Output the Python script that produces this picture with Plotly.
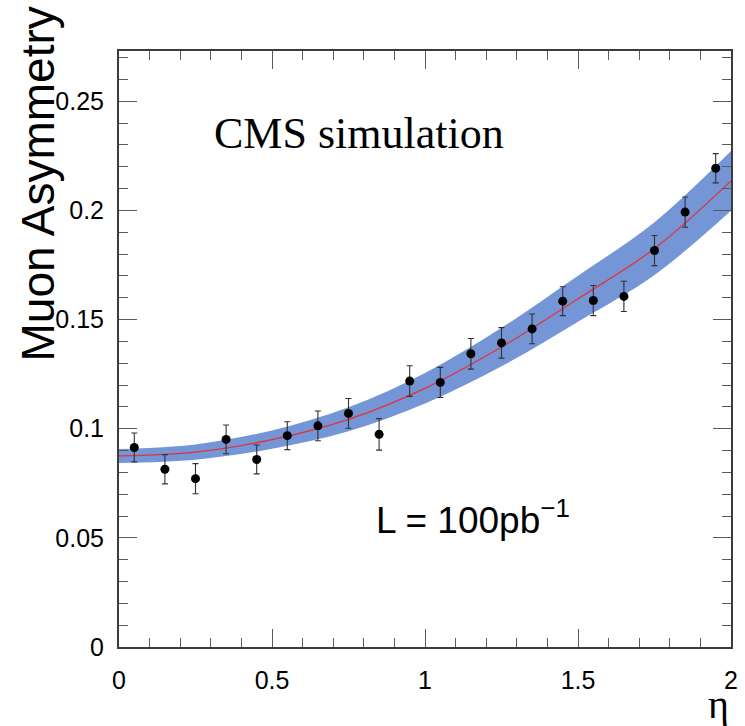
import plotly.graph_objects as go

# Data points
eta = [0.05, 0.15, 0.25, 0.35, 0.45, 0.55, 0.65, 0.75, 0.85, 0.95,
       1.05, 1.15, 1.25, 1.35, 1.45, 1.55, 1.65, 1.75, 1.85, 1.95]
asym = [0.0914, 0.0814, 0.0771, 0.0951, 0.0859, 0.0968, 0.1013, 0.1070, 0.0974, 0.1218,
        0.1212, 0.1343, 0.1393, 0.1457, 0.1584, 0.1587, 0.1606, 0.1816, 0.1992, 0.2193]
asym_err = [0.0066, 0.0067, 0.0069, 0.0066, 0.0066, 0.0064, 0.0068, 0.0068, 0.0072, 0.0070,
            0.0069, 0.0070, 0.0070, 0.0068, 0.0066, 0.0069, 0.0069, 0.0069, 0.0069, 0.0067]

# Fit curve and its uncertainty band
fit_eta = [0.0, 0.25, 0.5, 0.75, 1.0, 1.25, 1.5, 1.75, 2.0]
fit_center = [0.0875, 0.0893, 0.0950, 0.1043, 0.1185, 0.1374, 0.1595, 0.1825, 0.2135]
fit_halfwidth = [0.0032, 0.0035, 0.0042, 0.0055, 0.0070, 0.0088, 0.0105, 0.0121, 0.0137]

x_ticks = [0, 0.5, 1, 1.5, 2]
x_ticklabels = ["0", "0.5", "1", "1.5", "2"]
y_ticks = [0, 0.05, 0.1, 0.15, 0.2, 0.25]
y_ticklabels = ["0", "0.05", "0.1", "0.15", "0.2", "0.25"]

upper = [c + h for c, h in zip(fit_center, fit_halfwidth)]
lower = [c - h for c, h in zip(fit_center, fit_halfwidth)]

band_color = "rgb(116,149,214)"

fig = go.Figure()
fig.add_trace(go.Scatter(x=fit_eta, y=lower, mode="lines", line=dict(width=0, shape="spline", color=band_color),
                         showlegend=False, hoverinfo="skip"))
fig.add_trace(go.Scatter(x=fit_eta, y=upper, mode="lines", line=dict(width=0, shape="spline", color=band_color),
                         fill="tonexty", fillcolor=band_color, showlegend=False, hoverinfo="skip"))
fig.add_trace(go.Scatter(x=fit_eta, y=fit_center, mode="lines",
                         line=dict(width=1.3, shape="spline", color="rgb(226,52,56)"), showlegend=False))
fig.add_trace(go.Scatter(x=eta, y=asym, mode="markers",
                         marker=dict(size=9, color="black"),
                         error_y=dict(type="data", array=asym_err, visible=True, color="rgb(50,50,50)",
                                      thickness=1.1, width=3),
                         showlegend=False))

axis_common = dict(showgrid=False, zeroline=False, showline=True, linecolor="rgb(60,60,60)", linewidth=2,
                   mirror="allticks", ticks="inside", ticklen=18, tickwidth=1.3, tickcolor="rgb(90,90,90)",
                   tickfont=dict(family="Liberation Sans, Arial, sans-serif", size=25, color="black"))

fig.update_xaxes(range=[0, 2], tickvals=x_ticks, ticktext=x_ticklabels, ticklabelstandoff=10,
                 minor=dict(dtick=0.1, ticklen=9, tickwidth=1.1, tickcolor="rgb(90,90,90)", ticks="inside"),
                 **axis_common)
fig.update_yaxes(range=[0, 0.273], tickvals=y_ticks, ticktext=y_ticklabels, ticklabelstandoff=8,
                 minor=dict(dtick=0.01, ticklen=9, tickwidth=1.1, tickcolor="rgb(90,90,90)", ticks="inside"),
                 **axis_common)

fig.add_annotation(text="CMS simulation", x=0.304, y=0.2350, xref="x", yref="y",
                   xanchor="left", yanchor="middle", showarrow=False,
                   font=dict(family="Liberation Serif, Times New Roman, serif", size=44, color="black"))
fig.add_annotation(text="L = 100pb<sup>−1</sup>", x=0.834, y=0.0593, xref="x", yref="y",
                   xanchor="left", yanchor="middle", showarrow=False,
                   font=dict(family="Liberation Sans, Arial, sans-serif", size=37, color="black"))
fig.add_annotation(text="Muon Asymmetry", x=-0.133, y=0.777, xref="paper", yref="paper",
                   xanchor="center", yanchor="middle", textangle=-90, showarrow=False,
                   font=dict(family="Liberation Sans, Arial, sans-serif", size=46, color="black"))
fig.add_annotation(text="η", x=1.0, y=-0.097, xref="paper", yref="paper",
                   xanchor="right", yanchor="middle", showarrow=False,
                   font=dict(family="Liberation Serif, serif", size=40, color="black"))

fig.update_layout(width=745, height=726, margin=dict(l=119, r=7, t=51, b=79),
                  plot_bgcolor="white", paper_bgcolor="white")

fig.write_html("out.html", config={"displayModeBar": False},
               post_script="document.body.style.margin='0';document.body.style.overflow='hidden';")
